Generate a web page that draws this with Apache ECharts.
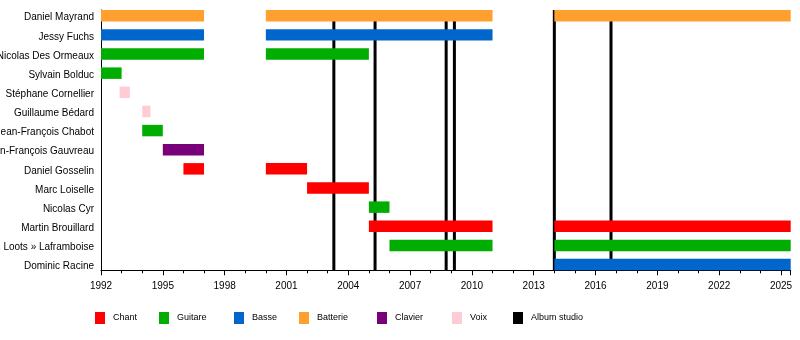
<!DOCTYPE html>
<html>
<head>
<meta charset="utf-8">
<script src="https://cdn.jsdelivr.net/npm/echarts@6/dist/echarts.min.js"></script>
<style>html,body{margin:0;padding:0;background:#fff;}#c{width:800px;height:340px;}</style>
</head>
<body>
<div id="c"></div>
<script>
// Members (top to bottom)
const members = ["Daniel Mayrand", "Jessy Fuchs", "Nicolas Des Ormeaux", "Sylvain Bolduc",
  "Stéphane Cornellier", "Guillaume Bédard", "Jean-François Chabot", "Jean-François Gauvreau",
  "Daniel Gosselin", "Marc Loiselle", "Nicolas Cyr", "Martin Brouillard",
  "Steve « Loots » Laframboise", "Dominic Racine"];
// [member row, start year, end year]
const chant = [[8, 1996, 1997], [8, 2000, 2002], [9, 2002, 2005], [11, 2005, 2011], [11, 2014, 2025.47]];
const guitare = [[2, 1992, 1997], [2, 2000, 2005], [3, 1992, 1993], [6, 1994, 1995], [10, 2005, 2006], [12, 2006, 2011], [12, 2014, 2025.47]];
const basse = [[1, 1992, 1997], [1, 2000, 2011], [13, 2014, 2025.47]];
const batterie = [[0, 1992, 1997], [0, 2000, 2011], [0, 2014, 2025.47]];
const clavier = [[7, 1995, 1997]];
const voix = [[4, 1992.9, 1993.4], [5, 1994, 1994.4]];
const albums = [2003.3, 2005.3, 2008.75, 2009.15, 2014.0, 2016.75];
const roles = ["Chant", "Guitare", "Basse", "Batterie", "Clavier", "Voix", "Album studio"];
const xMin = 1992, xMax = 2025.47, xInterval = 3;

const colors = { "Chant": "#ff0000", "Guitare": "#00ad00", "Basse": "#0066cc", "Batterie": "#ffa02e",
  "Clavier": "#780078", "Voix": "#ffccd5", "Album studio": "#000000" };
const HALF = 0.3;
const legendLefts = [95, 159, 234, 299, 377, 452, 513];

function renderBar(params, api) {
  const row = api.value(0), s = api.value(1), e = api.value(2);
  const p0 = api.coord([s, row - HALF]);
  const p1 = api.coord([e, row + HALF]);
  return { type: 'rect',
    shape: { x: p0[0], y: Math.min(p0[1], p1[1]), width: p1[0] - p0[0], height: Math.abs(p1[1] - p0[1]) },
    style: { fill: api.visual('color') } };
}
function renderAlbum(params, api) {
  const v = api.value(0);
  const p0 = api.coord([v, -HALF]);
  const p1 = api.coord([v, members.length - 1 + HALF]);
  return { type: 'line', shape: { x1: p0[0], y1: p0[1], x2: p1[0], y2: p1[1] },
    style: { stroke: '#000', lineWidth: 3 } };
}
const roleData = { "Chant": chant, "Guitare": guitare, "Basse": basse, "Batterie": batterie, "Clavier": clavier, "Voix": voix };

const series = [{
  name: "Album studio", type: 'custom', renderItem: renderAlbum, z: 1,
  itemStyle: { color: colors["Album studio"] },
  encode: { x: 0 }, data: albums.map(v => [v])
}];
roles.slice(0, 6).forEach(r => {
  series.push({ name: r, type: 'custom', renderItem: renderBar, z: 2,
    itemStyle: { color: colors[r] }, encode: { x: [1, 2], y: 0 }, data: roleData[r] });
});

const chart = echarts.init(document.getElementById('c'), null, { renderer: 'canvas' });
chart.setOption({
  animation: false,
  backgroundColor: '#fff',
  textStyle: { fontFamily: 'Liberation Sans, Arial, sans-serif' },
  grid: { left: 101, right: 9.3, top: 10, bottom: 69.7, containLabel: false, outerBoundsMode: 'none' },
  xAxis: {
    type: 'value', min: xMin, max: xMax, interval: xInterval,
    axisLine: { show: true, onZero: false, lineStyle: { color: '#000', width: 1 } },
    axisTick: { show: true, length: 5, lineStyle: { color: '#000' } },
    minorTick: { show: true, splitNumber: 3, length: 3, lineStyle: { color: '#000' } },
    splitLine: { show: false },
    axisLabel: { color: '#000', fontSize: 10, margin: 11, showMaxLabel: false,
      formatter: v => String(v),
      fontFamily: 'Liberation Sans, Arial, sans-serif' }
  },
  yAxis: {
    type: 'value', inverse: true, min: -HALF, max: members.length - 1 + HALF,
    axisLine: { show: true, onZero: false, lineStyle: { color: '#000', width: 1 } },
    axisTick: { show: false },
    splitLine: { show: false },
    axisLabel: { color: '#000', fontSize: 10, margin: 7, verticalAlign: 'top', lineHeight: 10,
      padding: [-3, 0, 0, 0],
      customValues: members.map((m, i) => i),
      formatter: v => members[Math.round(v)] || '',
      fontFamily: 'Liberation Sans, Arial, sans-serif' }
  },
  legend: roles.map((r, i) => ({
    data: [r], left: legendLefts[i], top: 312, orient: 'horizontal',
    itemWidth: 10, itemHeight: 12, icon: 'rect', selectedMode: false, padding: 0,
    textStyle: { fontSize: 9, color: '#000', padding: [0, 0, 0, 3],
      fontFamily: 'Liberation Sans, Arial, sans-serif' }
  })),
  series: series
});
</script>
</body>
</html>
